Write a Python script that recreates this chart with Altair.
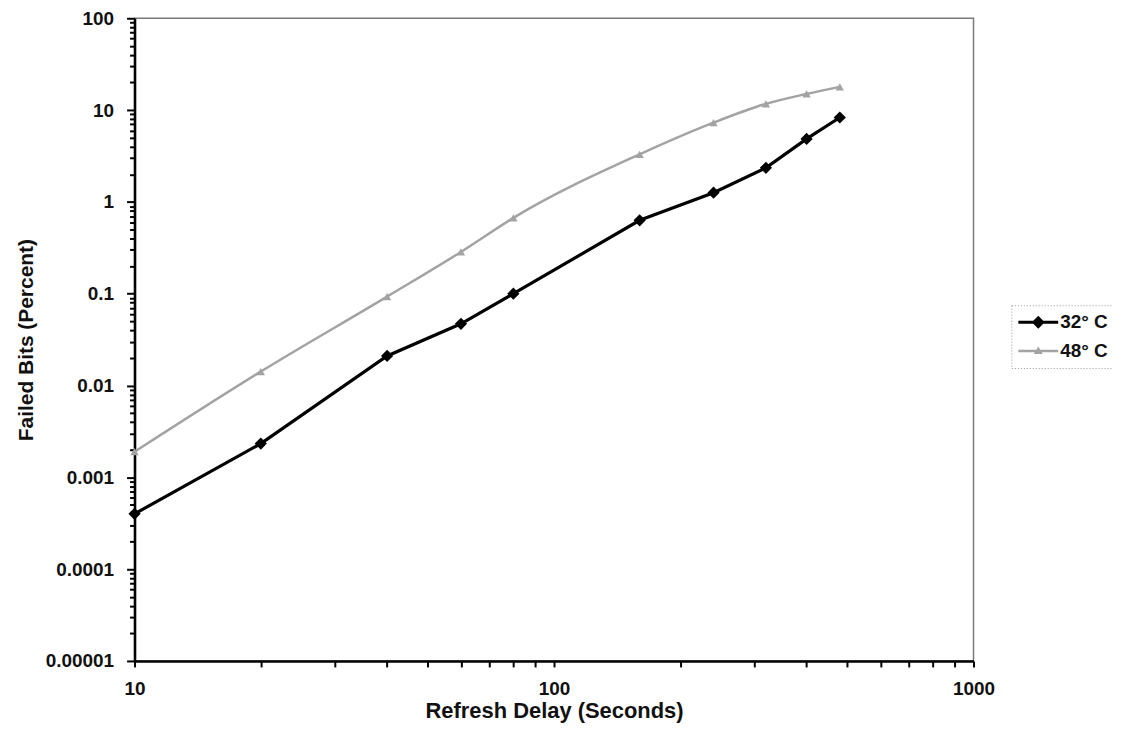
import altair as alt
import pandas as pd

# ---- data ----
delay_s = [10, 20, 40, 60, 80, 160, 240, 320, 400, 480]
failed_32 = [0.0004, 0.00233, 0.021, 0.047, 0.10, 0.63, 1.26, 2.35, 4.85, 8.3]
failed_48 = [0.0019, 0.0142, 0.093, 0.285, 0.67, 3.3, 7.3, 11.7, 15.0, 17.9]
series_names = ["32° C", "48° C"]
series_colors = ["#000000", "#a3a3a3"]

x_ticks = [10, 20, 30, 40, 50, 60, 70, 80, 90,
           100, 200, 300, 400, 500, 600, 700, 800, 900, 1000]
y_ticks = [m * 10.0 ** e for e in range(-5, 2) for m in range(1, 10)] + [100]

df32 = pd.DataFrame({"delay": delay_s, "failed": failed_32, "series": series_names[0]})
df48 = pd.DataFrame({"delay": delay_s, "failed": failed_48, "series": series_names[1]})
df_all = pd.concat([df32, df48], ignore_index=True)

FONT = "Liberation Sans"
is_major = "abs(log(datum.value)/LN10 - round(log(datum.value)/LN10)) < 0.000001"

x_enc = alt.X(
    "delay:Q",
    scale=alt.Scale(type="log", domain=[10, 1000]),
    axis=alt.Axis(
        title="Refresh Delay (Seconds)",
        values=x_ticks,
        labelExpr=f"{is_major} ? format(datum.value, '~g') : ''",
        labelOverlap=False,
        labelFlush=False,
        grid=False,
        tickSize=6,
        tickWidth=2,
        tickColor="#000000",
        domainColor="#000000",
        domainWidth=2.5,
        labelPadding=13,
        labelFontSize=19,
        labelFont=FONT,
        labelFontWeight="bold",
        labelColor="#111111",
        titleFont=FONT,
        titleFontSize=22,
        titleFontWeight="bold",
        titleColor="#111111",
        titlePadding=2,
    ),
)
y_enc = alt.Y(
    "failed:Q",
    scale=alt.Scale(type="log", domain=[0.00001, 100]),
    axis=alt.Axis(
        title="Failed Bits (Percent)",
        values=y_ticks,
        labelExpr=f"{is_major} ? format(datum.value, '~g') : ''",
        labelOverlap=False,
        labelFlush=False,
        grid=False,
        tickSize={"condition": {"test": is_major, "value": 8}, "value": 5},
        tickWidth=2,
        tickColor="#000000",
        domainColor="#000000",
        domainWidth=2.5,
        labelPadding=13,
        labelFontSize=19,
        labelFont=FONT,
        labelFontWeight="bold",
        labelColor="#111111",
        titleFont=FONT,
        titleFontSize=21,
        titleFontWeight="bold",
        titleColor="#111111",
        titlePadding=9,
    ),
)

line32 = alt.Chart(df32).mark_line(color=series_colors[0], strokeWidth=3.2).encode(x=x_enc, y=y_enc)
pts32 = alt.Chart(df32).mark_point(shape="diamond", filled=True, size=150, opacity=1,
                                   color=series_colors[0]).encode(x="delay:Q", y="failed:Q")
line48 = alt.Chart(df48).mark_line(color=series_colors[1], strokeWidth=2.5,
                                   interpolate="monotone").encode(x="delay:Q", y="failed:Q")
pts48 = alt.Chart(df48).mark_point(shape="triangle-up", filled=True, size=70, opacity=1,
                                   color=series_colors[1]).encode(x="delay:Q", y="failed:Q")

# legend symbols: line segment with marker (unit coordinates of a 20px symbol box)
sym32 = "M-2,-0.15H2V0.15H-2Z M0,-0.65L0.65,0L0,0.65L-0.65,0Z"
sym48 = "M-2,-0.12H2V0.12H-2Z M0,-0.45L0.45,0.3L-0.45,0.3Z"

legend_def = alt.Legend(
    title=None,
    orient="none",
    legendX=880,
    legendY=288,
    symbolSize=400,
    symbolOpacity=1,
    symbolStrokeWidth=0,
    symbolOffset=10,
    labelOffset=12,
    labelFont=FONT,
    labelFontSize=19,
    labelFontWeight="bold",
    labelColor="#111111",
    rowPadding=9,
    padding=7,
    strokeColor="#9a9a9a",
)

legend_layer = (
    alt.Chart(df_all)
    .transform_filter("false")
    .mark_point(filled=True, opacity=1)
    .encode(
        color=alt.Color("series:N", scale=alt.Scale(domain=series_names, range=series_colors),
                        legend=legend_def),
        shape=alt.Shape("series:N", scale=alt.Scale(domain=series_names, range=[sym32, sym48]),
                        legend=legend_def),
    )
)

chart = (
    alt.layer(line48, pts48, line32, pts32, legend_layer)
    .properties(
        width=842,
        height=645,
        autosize=alt.AutoSizeParams(type="none"),
        padding={"left": 127, "top": 9, "right": 140, "bottom": 70},
        background="#ffffff",
    )
    .configure_view(stroke="#7a7a7a", strokeWidth=1.5)
    .configure_legend(strokeDash=[1, 2], strokeWidth=1)
)

chart.save("out.html", embed_options={"renderer": "svg", "actions": False})
